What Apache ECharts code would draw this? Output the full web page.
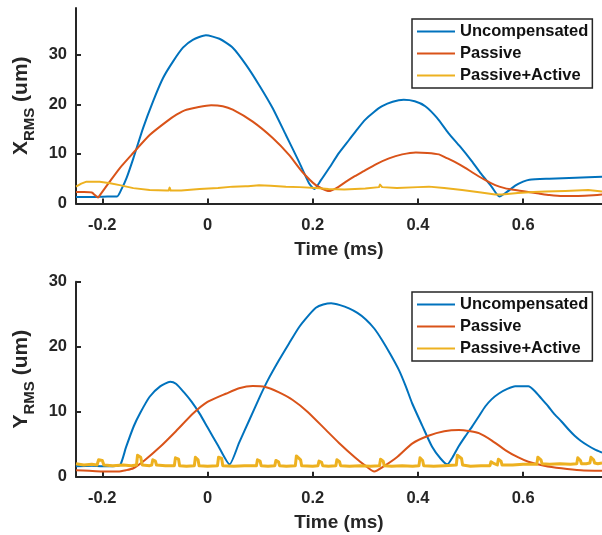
<!DOCTYPE html>
<html>
<head>
<meta charset="utf-8">
<script src="https://cdn.jsdelivr.net/npm/echarts@6/dist/echarts.min.js"></script>
<style>
  html, body { margin: 0; padding: 0; background: #fff; }
  #chart { width: 602px; height: 535px; }
</style>
</head>
<body>
<div id="chart"></div>
<script>
// Series names and tick positions
const seriesNames = ['Uncompensated', 'Passive', 'Passive+Active'];
const timeTicks = [-0.2, 0, 0.2, 0.4, 0.6];
const xRmsTicks = [0, 10, 20, 30];
const yRmsTicks = [0, 10, 20, 30];

// X_RMS traces: [time (ms), um]
const xUncompensated = [
  [-0.25, 1.3], [-0.22, 1.3], [-0.19, 1.4], [-0.172, 1.4], [-0.163, 3.0], [-0.154, 5.1],
  [-0.141, 9.1], [-0.1225, 15.2], [-0.1035, 20.6], [-0.0845, 25.3], [-0.0657, 28.6], [-0.0467, 31.4],
  [-0.028, 33.0], [-0.003, 33.9], [0.0227, 33.2], [0.048, 31.4], [0.073, 28.0], [0.098, 23.9],
  [0.124, 19.2], [0.149, 13.8], [0.174, 8.4], [0.193, 4.1], [0.203, 2.9], [0.215, 4.6],
  [0.231, 7.1], [0.25, 10.2], [0.269, 12.8], [0.285, 15.0], [0.3, 16.9], [0.316, 18.4],
  [0.332, 19.6], [0.352, 20.5], [0.373, 20.9], [0.394, 20.6], [0.414, 19.6], [0.436, 17.3],
  [0.458, 14.2], [0.48, 11.5], [0.502, 8.6], [0.52, 6.0], [0.54, 3.4], [0.555, 1.4],
  [0.57, 2.4], [0.585, 3.6], [0.6, 4.4], [0.612, 4.8], [0.65, 5.0], [0.7, 5.2], [0.75, 5.4]
];
const xPassive = [
  [-0.25, 2.3], [-0.235, 2.3], [-0.22, 2.2], [-0.214, 1.7], [-0.208, 1.2], [-0.2045, 1.7],
  [-0.186, 4.4], [-0.167, 7.1], [-0.1445, 9.8], [-0.11, 13.8], [-0.078, 16.5], [-0.059, 17.9],
  [-0.04, 18.9], [0.007, 19.8], [0.029, 19.6], [0.048, 18.9], [0.086, 16.5], [0.124, 13.2],
  [0.155, 9.8], [0.18, 6.4], [0.206, 3.7], [0.231, 2.5], [0.245, 3.1], [0.262, 4.3],
  [0.28, 5.5], [0.295, 6.4], [0.32, 7.9], [0.345, 9.1], [0.37, 9.9], [0.396, 10.3],
  [0.418, 10.2], [0.44, 9.9], [0.452, 9.3], [0.47, 8.4], [0.49, 7.2], [0.503, 6.3],
  [0.525, 4.9], [0.547, 3.7], [0.565, 3.1], [0.585, 2.7], [0.61, 2.3], [0.63, 2.0],
  [0.65, 1.7], [0.675, 1.5], [0.7, 1.5], [0.725, 1.6], [0.75, 1.8]
];
const xPassiveActive = [
  [-0.25, 3.4], [-0.24, 4.0], [-0.23, 4.4], [-0.205, 4.4], [-0.185, 4.1], [-0.167, 3.7],
  [-0.141, 3.1], [-0.11, 2.7], [-0.078, 2.6], [-0.074, 2.6], [-0.072, 3.2], [-0.07, 2.6],
  [-0.05, 2.6], [-0.015, 2.9], [0.02, 3.1], [0.048, 3.4], [0.072, 3.5], [0.074, 3.9],
  [0.077, 3.5], [0.098, 3.7], [0.12, 3.6], [0.149, 3.4], [0.175, 3.3], [0.206, 3.1],
  [0.23, 2.9], [0.26, 2.8], [0.3, 3.0], [0.326, 3.3], [0.328, 3.8], [0.332, 3.3],
  [0.36, 3.1], [0.4, 3.3], [0.421, 3.4], [0.45, 3.1], [0.484, 2.7], [0.52, 2.2],
  [0.547, 1.8], [0.56, 1.8], [0.59, 2.1], [0.62, 2.3], [0.642, 2.4], [0.68, 2.5],
  [0.724, 2.7], [0.75, 2.4]
];

// Y_RMS traces: [time (ms), um]
const yUncompensated = [
  [-0.25, 1.6], [-0.22, 1.7], [-0.2, 1.6], [-0.18, 1.6], [-0.166, 1.8], [-0.155, 4.5],
  [-0.14, 7.8], [-0.128, 9.8], [-0.11, 12.3], [-0.09, 13.9], [-0.071, 14.6], [-0.06, 14.3],
  [-0.045, 13.0], [-0.03, 11.5], [-0.015, 9.7], [0.0, 7.6], [0.02, 4.8], [0.042, 1.9],
  [0.06, 5.2], [0.08, 8.8], [0.1, 12.4], [0.115, 14.9], [0.135, 17.8], [0.155, 20.5],
  [0.174, 23.0], [0.193, 24.9], [0.206, 26.0], [0.22, 26.5], [0.235, 26.7], [0.252, 26.4],
  [0.269, 25.9], [0.285, 25.2], [0.301, 24.2], [0.317, 22.8], [0.332, 21.0], [0.348, 18.8],
  [0.364, 16.4], [0.377, 13.9], [0.389, 11.3], [0.408, 7.9], [0.427, 4.6], [0.443, 2.8],
  [0.456, 1.9], [0.466, 3.0], [0.477, 4.6], [0.49, 6.2], [0.503, 7.7], [0.516, 9.3],
  [0.528, 10.8], [0.54, 11.9], [0.554, 12.8], [0.57, 13.5], [0.585, 13.9], [0.61, 13.9],
  [0.622, 13.2], [0.635, 12.0], [0.648, 10.8], [0.66, 9.6], [0.673, 8.5], [0.686, 7.3],
  [0.698, 6.3], [0.71, 5.5], [0.723, 4.8], [0.736, 4.2], [0.75, 3.7]
];
const yPassive = [
  [-0.25, 1.0], [-0.225, 0.9], [-0.2, 0.8], [-0.17, 0.8], [-0.155, 1.0], [-0.141, 1.3],
  [-0.12, 2.5], [-0.09, 4.6], [-0.06, 7.0], [-0.027, 9.75], [0.0, 11.5], [0.036, 12.8],
  [0.06, 13.6], [0.086, 13.95], [0.11, 13.8], [0.135, 13.0], [0.162, 11.8], [0.19, 10.0],
  [0.225, 7.2], [0.25, 5.2], [0.28, 3.0], [0.3, 1.7], [0.317, 0.8], [0.335, 1.6],
  [0.36, 3.0], [0.389, 5.1], [0.42, 6.3], [0.45, 7.0], [0.478, 7.2], [0.5, 7.0],
  [0.516, 6.7], [0.54, 5.6], [0.566, 4.1], [0.59, 3.0], [0.61, 2.3], [0.64, 1.7],
  [0.673, 1.3], [0.71, 1.0], [0.75, 0.9]
];
const yPassiveActive = [
  [-0.25, 2.0], [-0.235, 1.8], [-0.22, 1.9], [-0.21, 1.8], [-0.207, 2.6], [-0.2, 2.5],
  [-0.197, 1.8], [-0.18, 1.7], [-0.16, 1.8], [-0.145, 1.7], [-0.135, 1.8], [-0.133, 3.3],
  [-0.127, 3.0], [-0.124, 1.8], [-0.11, 1.7], [-0.106, 1.8], [-0.104, 2.6], [-0.099, 2.4],
  [-0.097, 1.8], [-0.08, 1.7], [-0.063, 1.7], [-0.061, 2.9], [-0.055, 2.7], [-0.053, 1.7],
  [-0.04, 1.6], [-0.025, 1.7], [-0.023, 3.0], [-0.018, 2.6], [-0.016, 1.7], [0.0, 1.6],
  [0.019, 1.7], [0.021, 3.0], [0.027, 2.8], [0.029, 1.7], [0.05, 1.6], [0.07, 1.7],
  [0.093, 1.7], [0.095, 2.6], [0.1, 2.4], [0.102, 1.7], [0.115, 1.6], [0.128, 1.7],
  [0.13, 2.5], [0.135, 2.3], [0.137, 1.7], [0.15, 1.6], [0.167, 1.7], [0.169, 3.2],
  [0.177, 2.6], [0.179, 1.7], [0.2, 1.6], [0.21, 1.7], [0.212, 2.4], [0.217, 2.2],
  [0.219, 1.7], [0.23, 1.6], [0.244, 1.7], [0.246, 2.6], [0.251, 2.3], [0.253, 1.7],
  [0.27, 1.6], [0.29, 1.7], [0.31, 1.6], [0.327, 1.7], [0.329, 2.7], [0.334, 2.4],
  [0.336, 1.7], [0.35, 1.6], [0.37, 1.7], [0.39, 1.6], [0.402, 1.7], [0.404, 2.9],
  [0.409, 2.5], [0.411, 1.7], [0.43, 1.6], [0.45, 1.7], [0.473, 1.8], [0.475, 3.3],
  [0.483, 2.8], [0.485, 1.8], [0.5, 1.6], [0.52, 1.7], [0.537, 1.7], [0.539, 2.3],
  [0.543, 2.1], [0.551, 1.8], [0.553, 2.7], [0.558, 2.4], [0.56, 1.8], [0.58, 1.8],
  [0.6, 1.9], [0.626, 1.9], [0.628, 3.0], [0.634, 2.6], [0.636, 2.0], [0.65, 1.9],
  [0.67, 2.0], [0.69, 1.9], [0.702, 2.0], [0.704, 2.9], [0.709, 2.5], [0.711, 2.0],
  [0.72, 2.0], [0.727, 2.1], [0.729, 3.0], [0.734, 2.6], [0.736, 2.1], [0.742, 2.0],
  [0.75, 2.1]
];

const colors = ['#0072BD', '#D95319', '#EDB120'];
const ink = '#262626';
const font = '"Liberation Sans", Arial, Helvetica, sans-serif';

function xAxisFor(gridIndex) {
  return {
    type: 'value', gridIndex: gridIndex, min: -0.25, max: 0.75,
    name: 'Time (ms)', nameLocation: 'middle', nameGap: 37,
    nameTextStyle: { fontSize: 19, fontWeight: 'bold', color: ink, fontFamily: font },
    axisLine: { show: true, onZero: false, lineStyle: { color: ink, width: 2 } },
    axisTick: { show: true, inside: true, length: 5, lineStyle: { color: ink, width: 2 }, customValues: timeTicks },
    axisLabel: { show: true, margin: 13, fontSize: 16.5, fontWeight: 'bold', color: ink, fontFamily: font,
      customValues: timeTicks, formatter: v => String(v) },
    splitLine: { show: false }
  };
}

function yAxisFor(gridIndex, maxVal, ticks, letter) {
  return {
    type: 'value', gridIndex: gridIndex, min: 0, max: maxVal,
    name: '{m|' + letter + '}{s|RMS}{m| (um)}', nameLocation: 'middle', nameGap: 34, nameRotate: 90,
    nameTextStyle: {
      color: ink, fontFamily: font,
      rich: {
        m: { fontSize: 21, fontWeight: 'bold', color: ink, fontFamily: font, lineHeight: 34 },
        s: { fontSize: 15, fontWeight: 'bold', color: ink, fontFamily: font, lineHeight: 14, verticalAlign: 'bottom' }
      }
    },
    axisLine: { show: true, onZero: false, lineStyle: { color: ink, width: 2 } },
    axisTick: { show: true, inside: true, length: 5, lineStyle: { color: ink, width: 2 }, customValues: ticks },
    axisLabel: { show: true, margin: 9, fontSize: 16.5, fontWeight: 'bold', color: ink, fontFamily: font,
      customValues: ticks },
    splitLine: { show: false }
  };
}

function lineSeries(name, data, axisIndex, color, width, smooth) {
  return {
    type: 'line', name: name, data: data, xAxisIndex: axisIndex, yAxisIndex: axisIndex,
    showSymbol: false, symbol: 'none', smooth: smooth, clip: true,
    lineStyle: { color: color, width: width, join: 'round' }, itemStyle: { color: color },
    emphasis: { disabled: true }
  };
}

function legendAt(top) {
  return {
    data: seriesNames, orient: 'vertical', left: 412, top: top,
    icon: 'rect', itemWidth: 38, itemHeight: 2, itemGap: 3,
    padding: [3, 4, 3, 5],
    backgroundColor: '#fff', borderColor: ink, borderWidth: 1.5, borderRadius: 0,
    textStyle: { fontSize: 16.5, fontWeight: 'bold', color: '#111', fontFamily: font, lineHeight: 19 },
    selectedMode: false
  };
}

const chart = echarts.init(document.getElementById('chart'), null, { renderer: 'canvas' });
chart.setOption({
  animation: false,
  backgroundColor: '#fff',
  grid: [
    { left: 76, top: 8, width: 528, height: 195.5 },
    { left: 76, top: 281.7, width: 528, height: 195 }
  ],
  xAxis: [xAxisFor(0), xAxisFor(1)],
  yAxis: [yAxisFor(0, 39.4, xRmsTicks, 'X'), yAxisFor(1, 30, yRmsTicks, 'Y')],
  legend: [legendAt(19), legendAt(292)],
  series: [
    lineSeries(seriesNames[0], xUncompensated, 0, colors[0], 2, 0.2),
    lineSeries(seriesNames[1], xPassive, 0, colors[1], 2, 0.2),
    lineSeries(seriesNames[2], xPassiveActive, 0, colors[2], 2, false),
    lineSeries(seriesNames[0], yUncompensated, 1, colors[0], 2, 0.2),
    lineSeries(seriesNames[1], yPassive, 1, colors[1], 2, 0.2),
    lineSeries(seriesNames[2], yPassiveActive, 1, colors[2], 3, false)
  ]
});
</script>
</body>
</html>
